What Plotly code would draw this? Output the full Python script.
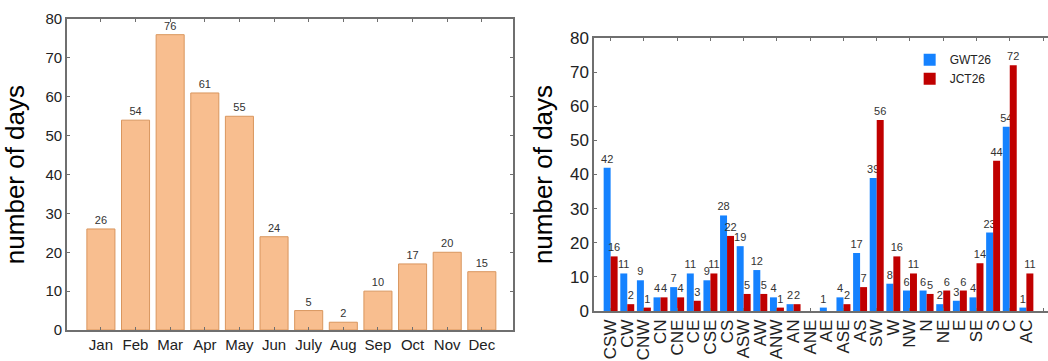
import plotly.graph_objects as go

months = ["Jan", "Feb", "Mar", "Apr", "May", "Jun", "July", "Aug", "Sep", "Oct", "Nov", "Dec"]
month_days = [26, 54, 76, 61, 55, 24, 5, 2, 10, 17, 20, 15]

types = ["CSW", "CW", "CNW", "CN", "CNE", "CE", "CSE", "CS", "ASW", "AW", "ANW", "AN", "ANE",
         "AE", "ASE", "AS", "SW", "W", "NW", "N", "NE", "E", "SE", "S", "C", "AC"]
gwt26 = [42, 11, 9, 4, 7, 11, 9, 28, 19, 12, 4, 2, 0, 1, 4, 17, 39, 8, 6, 6, 2, 3, 4, 23, 54, 1]
jct26 = [16, 2, 1, 4, 4, 3, 11, 22, 5, 5, 1, 2, 0, 0, 2, 7, 56, 16, 11, 5, 6, 6, 14, 44, 72, 11]

FONT = "Liberation Sans, Arial, sans-serif"
FRAME = "#6f6f6f"
TXT = "#333333"

def lbl(vals):
    return [str(v) if v else "" for v in vals]

fig = go.Figure()

fig.add_trace(go.Bar(
    x=months, y=month_days, text=lbl(month_days), textposition="outside",
    textfont=dict(size=11, color=TXT, family=FONT), cliponaxis=False, constraintext="none",
    marker=dict(color="#f8be8f", line=dict(color="#d9965e", width=1)),
    width=0.81, xaxis="x", yaxis="y", showlegend=False))

fig.add_trace(go.Bar(
    x=types, y=gwt26, name="GWT26", text=lbl(gwt26), textposition="outside",
    textfont=dict(size=11, color=TXT, family=FONT), cliponaxis=False, constraintext="none",
    marker=dict(color="#1582ff", line=dict(width=0)),
    xaxis="x2", yaxis="y2", offsetgroup="g"))
fig.add_trace(go.Bar(
    x=types, y=jct26, name="JCT26", text=lbl(jct26), textposition="outside",
    textfont=dict(size=11, color=TXT, family=FONT), cliponaxis=False, constraintext="none",
    marker=dict(color="#c00000", line=dict(width=0)),
    xaxis="x2", yaxis="y2", offsetgroup="j"))

# tick-only helper axis for every second category on the right chart
fig.add_trace(go.Scatter(x=[], y=[], xaxis="x3", yaxis="y2", showlegend=False))

axis_common = dict(showline=True, linecolor=FRAME, linewidth=1.5, ticks="inside",
                   ticklen=3, tickcolor=FRAME, showgrid=False, zeroline=False,
                   automargin=False)

fig.update_layout(
    width=1048, height=361,
    margin=dict(l=0, r=0, t=0, b=0),
    paper_bgcolor="white", plot_bgcolor="white",
    font=dict(family=FONT, color=TXT),
    barmode="group", bargap=0.16, bargroupgap=0,
    xaxis=dict(domain=[0.0639, 0.4895], range=[-0.98, 11.9], mirror="ticks",
               tickfont=dict(size=15, color="#222"), **axis_common),
    yaxis=dict(domain=[0.0859, 0.947], range=[0, 80], dtick=10, mirror="ticks",
               tickfont=dict(size=15, color="#222"),
               title=dict(text="number of days", font=dict(size=26, color="black"), standoff=14),
               **axis_common),
    xaxis2=dict(domain=[0.5668, 1.0], range=[-1, 26.3], anchor="y2", showline=True,
                linecolor=FRAME, linewidth=1.5, mirror=True, ticks="", showgrid=False,
                zeroline=False, tickangle=-90, tickfont=dict(size=17, color="#222"),
                tickmode="array", tickvals=types, automargin=False),
    xaxis3=dict(domain=[0.5668, 1.0], range=[-1, 26.3], anchor="y2", overlaying="x2",
                tick0=0, dtick=2, ticks="inside", ticklen=3, tickcolor=FRAME,
                showticklabels=False, showline=False, showgrid=False, zeroline=False,
                mirror="ticks", automargin=False),
    yaxis2=dict(domain=[0.1385, 0.8947], range=[0, 80], dtick=10, anchor="x2",
                tickfont=dict(size=17, color="#222"),
                title=dict(text="number of days", font=dict(size=26, color="black"), standoff=10),
                **axis_common),
    legend=dict(x=0.868, y=0.875, xanchor="left", yanchor="top", bgcolor="rgba(0,0,0,0)",
                font=dict(size=12, color="#222"), itemwidth=30, tracegroupgap=0),
)

fig.write_html("out.html")
